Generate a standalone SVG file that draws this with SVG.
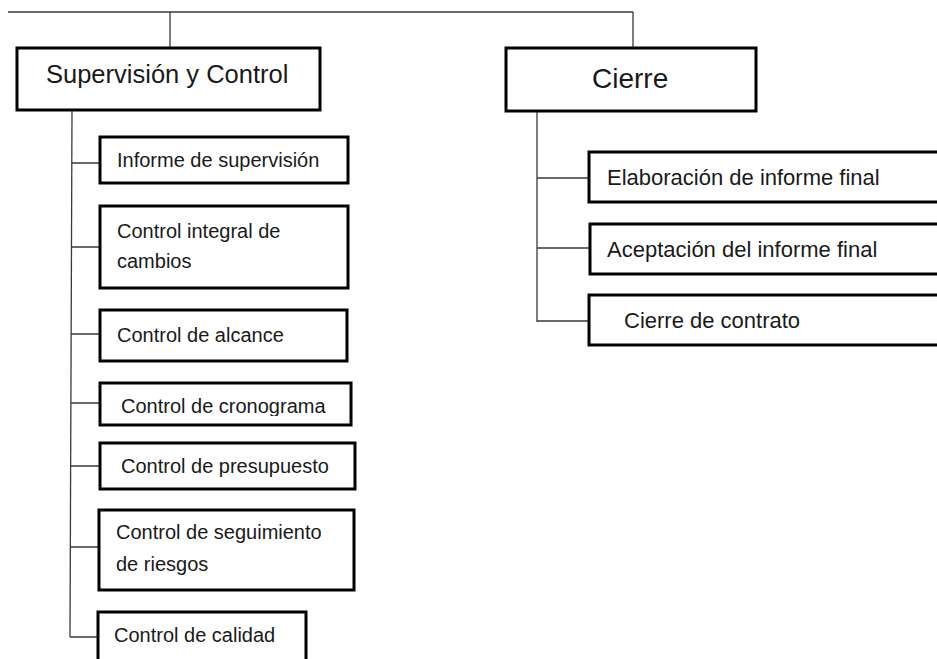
<svg xmlns="http://www.w3.org/2000/svg" width="937" height="659" viewBox="0 0 937 659">
<style>
.box{fill:#fff;stroke:#000;stroke-width:3}
.ln{stroke:#3a3a3a;stroke-width:1.3;fill:none}
text{font-family:"Liberation Sans",Arial,sans-serif;fill:#1a1a1a}
.t{font-size:20px}
.tr{font-size:22px}
</style>
<defs>
<clipPath id="clipCrono"><rect x="100" y="380" width="260" height="36"/></clipPath>
</defs>
<rect width="937" height="659" fill="#fff"/>
<g id="connectors">
<path class="ln" d="M8 12 H633 M170 12 V48 M633 12 V48"/>
<path class="ln" d="M72 110 L70 637"/>
<path class="ln" d="M72 163 H100 M72 247 H100 M71 334 H100 M71 403 H100 M71 466 H100 M70 547 H99 M70 637 H98"/>
<path class="ln" d="M537 111 V322 M537 178 H589 M537 248 H590 M537 321 H589"/>
</g>
<g id="n-supervision"><rect class="box" x="17" y="48" width="303" height="62"/><text x="46" y="83" style="font-size:25.5px">Supervisión y Control</text></g>
<g id="n-cierre"><rect class="box" x="506" y="48" width="250" height="63"/><text x="592" y="88" style="font-size:28px">Cierre</text></g>
<g id="n-informe"><rect class="box" x="100" y="137" width="248" height="46"/><text class="t" x="117" y="167">Informe de supervisión</text></g>
<g id="n-integral"><rect class="box" x="100" y="206" width="248" height="82"/><text class="t" x="117" y="238">Control integral de</text><text class="t" x="117" y="268">cambios</text></g>
<g id="n-alcance"><rect class="box" x="100" y="310" width="247" height="51"/><text class="t" x="117" y="342">Control de alcance</text></g>
<g id="n-cronograma"><rect class="box" x="100" y="383" width="251" height="42"/><text class="t" x="121" y="413" clip-path="url(#clipCrono)">Control de cronograma</text></g>
<g id="n-presupuesto"><rect class="box" x="100" y="443" width="255" height="46"/><text class="t" x="121" y="473">Control de presupuesto</text></g>
<g id="n-riesgos"><rect class="box" x="99" y="510" width="255" height="80"/><text class="t" x="116" y="539">Control de seguimiento</text><text class="t" x="116" y="571">de riesgos</text></g>
<g id="n-calidad"><rect class="box" x="98" y="612" width="208" height="60"/><text class="t" x="114" y="642">Control de calidad</text></g>
<g id="n-elaboracion"><rect class="box" x="589" y="152" width="360" height="50"/><text class="tr" x="607" y="185">Elaboración de informe final</text></g>
<g id="n-aceptacion"><rect class="box" x="590" y="224" width="360" height="50"/><text class="tr" x="607" y="257">Aceptación del informe final</text></g>
<g id="n-contrato"><rect class="box" x="589" y="295" width="360" height="50"/><text class="tr" x="624" y="328">Cierre de contrato</text></g>
</svg>
